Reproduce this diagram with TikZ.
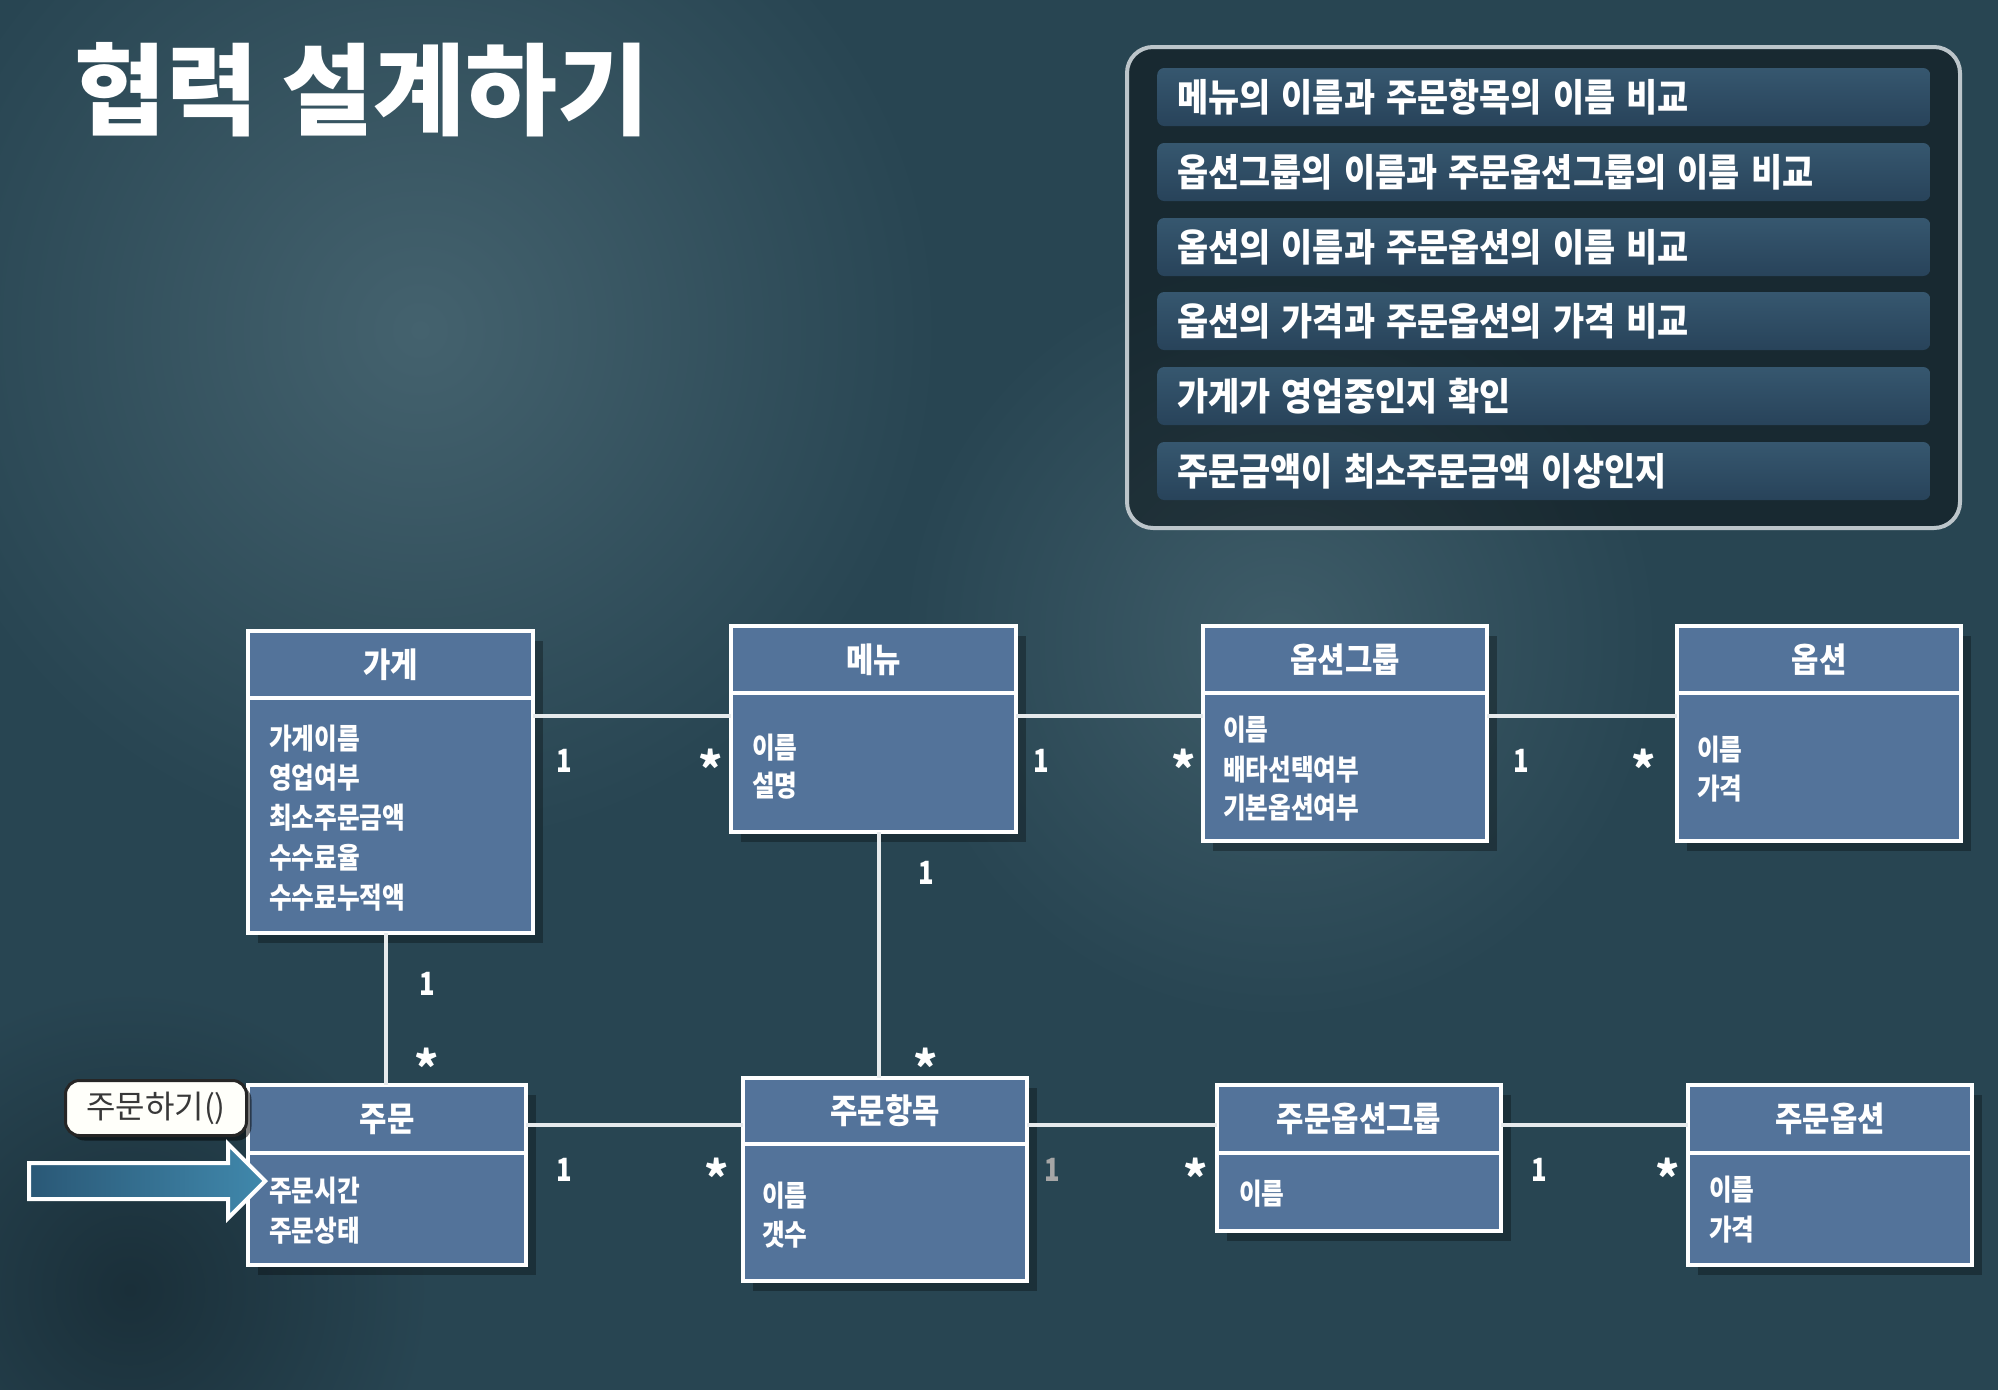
\documentclass[tikz,border=0pt]{standalone}
\usepackage{fontspec}
\setmainfont{Noto Sans CJK KR}
\usepackage{graphicx}
\usetikzlibrary{positioning,shadows,shapes.arrows}
\definecolor{bgteal}{HTML}{284552}
\definecolor{bglight}{HTML}{44626E}
\definecolor{bgdark}{HTML}{1A2F39}
\definecolor{boxblue}{HTML}{53739A}
\definecolor{bartop}{HTML}{36576F}
\definecolor{barbot}{HTML}{28435A}
\definecolor{rimgray}{HTML}{BCC5CA}
\definecolor{linegray}{HTML}{E6EAEC}
\definecolor{arrdark}{HTML}{2A5876}
\definecolor{arrlight}{HTML}{4088AC}
\newcommand{\nrw}[2][0.86]{\scalebox{#1}[1]{#2}}

\begin{document}
\begin{tikzpicture}[x=1pt,y=-1pt,
    headbox/.style={draw=white,line width=4,fill=boxblue,outer sep=0,inner sep=0,
      anchor=north west,text=white,font=\fontsize{34}{38}\selectfont\bfseries,
      drop shadow={shadow xshift=10,shadow yshift=10,opacity=0.3,fill=black}},
    bodybox/.style={draw=white,line width=4,fill=boxblue,outer sep=0,inner sep=0,
      drop shadow={shadow xshift=10,shadow yshift=10,opacity=0.3,fill=black}},
    attr/.style={anchor=west,inner sep=0,text=white,font=\fontsize{29}{32}\selectfont\bfseries},
    assoc/.style={draw=linegray,line width=4},
    mult/.style={inner sep=0,text=white,font=\fontsize{32}{36}\selectfont\bfseries},
    many/.style={inner sep=0,text=white,font=\fontsize{46}{48}\selectfont\bfseries},
    rowbar/.style={anchor=west,rounded corners=7,top color=bartop,bottom color=barbot,
      minimum height=58,text width=733,inner xsep=20,align=left,text=white,
      font=\fontsize{38}{42}\selectfont\bfseries},
    methodtag/.style={anchor=north west,rounded corners=14,draw=black!85,line width=3,
      fill=white!98!yellow,text=black!78,font=\fontsize{32}{36}\selectfont,
      drop shadow={shadow xshift=5,shadow yshift=5,opacity=0.5,fill=black}}]
\useasboundingbox (0,0) rectangle (1998,1390);
\fill[bgteal] (0,0) rectangle (1998,1390);
\shade[inner color=bglight,outer color=bgteal] (420,330) circle (520);
\shade[inner color=bglight!80!bgteal,outer color=bgteal] (1280,640) circle (380);
\shade[inner color=bgdark,outer color=bgteal] (130,1290) circle (300);

% title
\node[anchor=west,inner sep=0,text=white,font=\fontsize{100}{108}\selectfont\bfseries] (title) at (74,90) {협력 설계하기};

% checklist
\node[anchor=north west,rounded corners=26,draw=rimgray,line width=4,fill=black,fill opacity=0.4,
  minimum width=833,minimum height=481] (panel) at (1125,45) {};
\node[rowbar] (r1) at (1157,97) {\nrw[0.89]{메뉴의 이름과 주문항목의 이름 비교}};
\node[rowbar] (r2) at (1157,172) {\nrw[0.89]{옵션그룹의 이름과 주문옵션그룹의 이름 비교}};
\node[rowbar] (r3) at (1157,247) {\nrw[0.89]{옵션의 이름과 주문옵션의 이름 비교}};
\node[rowbar] (r4) at (1157,321) {\nrw[0.89]{옵션의 가격과 주문옵션의 가격 비교}};
\node[rowbar] (r5) at (1157,396) {\nrw[0.89]{가게가 영업중인지 확인}};
\node[rowbar] (r6) at (1157,471) {\nrw[0.89]{주문금액이 최소주문금액 이상인지}};

% upper classes
\node[headbox,minimum width=285,minimum height=67] (gageH) at (248,631) {\nrw[0.875]{가게}};
\node[bodybox,minimum width=285,minimum height=235,below=0pt of gageH] (gageB) {};
\node[attr] (gageA1) at (269,739) {\nrw[0.85]{가게이름}};
\node[attr] (gageA2) at (269,778) {\nrw[0.85]{영업여부}};
\node[attr] (gageA3) at (269,818) {\nrw[0.85]{최소주문금액}};
\node[attr] (gageA4) at (269,858) {\nrw[0.85]{수수료율}};
\node[attr] (gageA5) at (269,898) {\nrw[0.85]{수수료누적액}};

\node[headbox,minimum width=285,minimum height=67] (menuH) at (731,626) {\nrw[0.875]{메뉴}};
\node[bodybox,minimum width=285,minimum height=139,below=0pt of menuH] (menuB) {};
\node[attr] (menuA1) at (752,748) {\nrw[0.85]{이름}};
\node[attr] (menuA2) at (752,786) {\nrw[0.85]{설명}};

\node[headbox,minimum width=284,minimum height=67] (optgH) at (1203,626) {\nrw[0.875]{옵션그룹}};
\node[bodybox,minimum width=284,minimum height=148,below=0pt of optgH] (optgB) {};
\node[attr] (optgA1) at (1223,730) {\nrw[0.85]{이름}};
\node[attr] (optgA2) at (1223,770) {\nrw[0.85]{배타선택여부}};
\node[attr] (optgA3) at (1223,808) {\nrw[0.85]{기본옵션여부}};

\node[headbox,minimum width=284,minimum height=67] (optH) at (1677,626) {\nrw[0.875]{옵션}};
\node[bodybox,minimum width=284,minimum height=148,below=0pt of optH] (optB) {};
\node[attr] (optA1) at (1697,750) {\nrw[0.85]{이름}};
\node[attr] (optA2) at (1697,789) {\nrw[0.85]{가격}};

% lower classes
\node[headbox,minimum width=278,minimum height=68] (orderH) at (248,1085) {\nrw[0.875]{주문}};
\node[bodybox,minimum width=278,minimum height=112,below=0pt of orderH] (orderB) {};
\node[attr] (orderA1) at (269,1191) {\nrw[0.85]{주문시간}};
\node[attr] (orderA2) at (269,1231) {\nrw[0.85]{주문상태}};

\node[headbox,minimum width=284,minimum height=66] (itemH) at (743,1078) {\nrw[0.875]{주문항목}};
\node[bodybox,minimum width=284,minimum height=137,below=0pt of itemH] (itemB) {};
\node[attr] (itemA1) at (762,1196) {\nrw[0.85]{이름}};
\node[attr] (itemA2) at (762,1235) {\nrw[0.85]{갯수}};

\node[headbox,minimum width=284,minimum height=68] (ogrpH) at (1217,1085) {\nrw[0.875]{주문옵션그룹}};
\node[bodybox,minimum width=284,minimum height=78,below=0pt of ogrpH] (ogrpB) {};
\node[attr] (ogrpA1) at (1239,1194) {\nrw[0.85]{이름}};

\node[headbox,minimum width=284,minimum height=68] (ooptH) at (1688,1085) {\nrw[0.875]{주문옵션}};
\node[bodybox,minimum width=284,minimum height=112,below=0pt of ooptH] (ooptB) {};
\node[attr] (ooptA1) at (1709,1190) {\nrw[0.85]{이름}};
\node[attr] (ooptA2) at (1709,1230) {\nrw[0.85]{가격}};

% associations
\draw[assoc] ([yshift=-18]gageB.north east) -- ([yshift=-23]menuB.north west);
\draw[assoc] ([yshift=-23]menuB.north east) -- ([yshift=-23]optgB.north west);
\draw[assoc] ([yshift=-23]optgB.north east) -- ([yshift=-23]optB.north west);
\draw[assoc] ([xshift=-5]gageB.south) -- ([xshift=-5]gageB.south |- orderH.north);
\draw[assoc] ([xshift=5]menuB.south) -- ([xshift=5]menuB.south |- itemH.north);
\draw[assoc] ([yshift=-40]orderH.north east) -- ([yshift=-47]itemH.north west);
\draw[assoc] ([yshift=-47]itemH.north east) -- ([yshift=-40]ogrpH.north west);
\draw[assoc] ([yshift=-40]ogrpH.north east) -- ([yshift=-40]ooptH.north west);

\node[mult] (m1) at (564,761) {\nrw[0.8]{1}};
\node[many] (n1) at (711,768) {*};
\node[mult] (m2) at (1041,761) {\nrw[0.8]{1}};
\node[many] (n2) at (1184,768) {*};
\node[mult] (m3) at (1521,761) {\nrw[0.8]{1}};
\node[many] (n3) at (1644,768) {*};
\node[mult] (m4) at (427,984) {\nrw[0.8]{1}};
\node[many] (n4) at (427,1067) {*};
\node[mult] (m5) at (926,873) {\nrw[0.8]{1}};
\node[many] (n5) at (926,1067) {*};
\node[mult] (m6) at (564,1170) {\nrw[0.8]{1}};
\node[many] (n6) at (717,1177) {*};
\node[mult,text=gray!70] (m7) at (1052,1170) {\nrw[0.8]{1}};
\node[many] (n7) at (1196,1177) {*};
\node[mult] (m8) at (1539,1170) {\nrw[0.8]{1}};
\node[many] (n8) at (1668,1177) {*};

% entry point
\node[methodtag,minimum width=181,minimum height=55] (call) at (64,1079) {주문하기()};
\node[single arrow,anchor=tip,draw=white,line width=4,left color=arrdark,right color=arrlight,
  minimum height=236,inner xsep=0,inner ysep=16,single arrow head extend=19] (entry) at (268,1181) {};
\end{tikzpicture}
\end{document}
